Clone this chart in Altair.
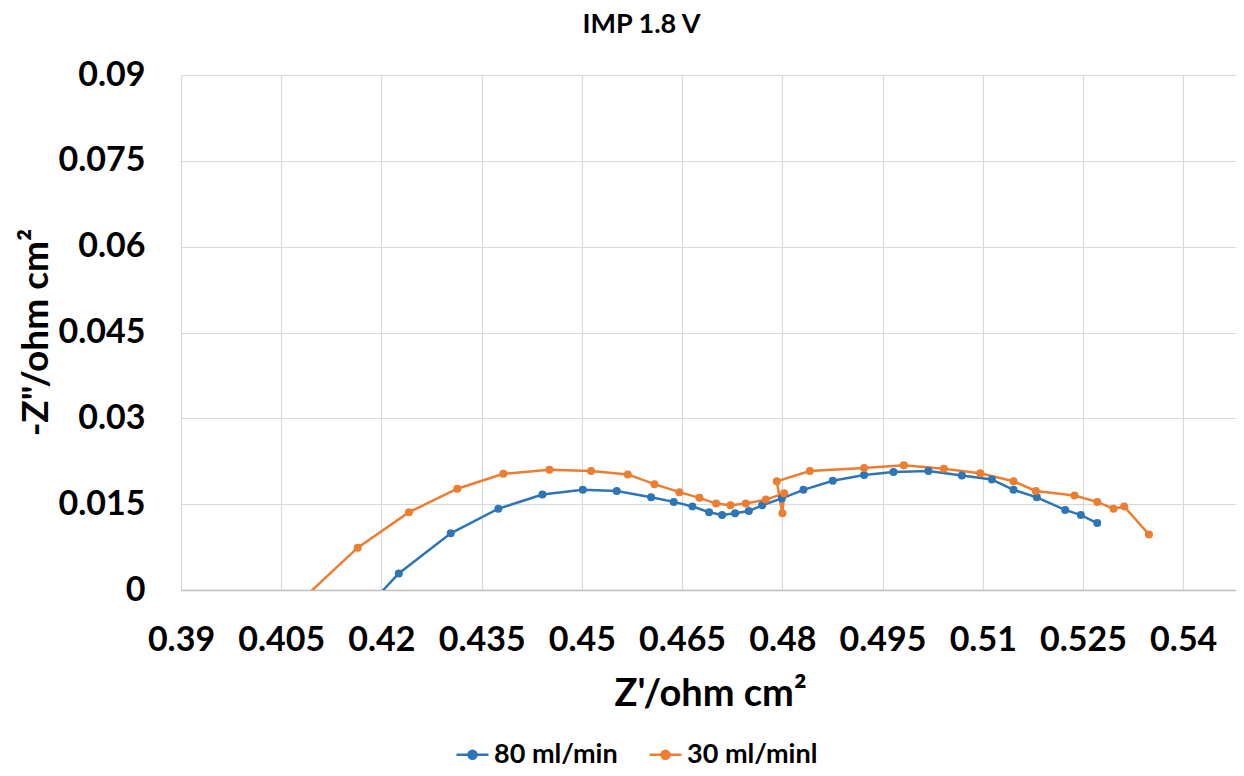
import altair as alt
import pandas as pd

# 80 ml/min series (Z', -Z'')
blue_x = [0.4179, 0.42259, 0.43037, 0.4375, 0.44409, 0.45013, 0.45522, 0.46036, 0.46375,
          0.46654, 0.46904, 0.47099, 0.47293, 0.47498, 0.47698, 0.47992, 0.48316, 0.48755,
          0.49224, 0.49663, 0.50187, 0.50687, 0.51136, 0.5146, 0.51809, 0.52233, 0.52468, 0.52713]
blue_y = [-0.003, 0.0029, 0.0099, 0.0142, 0.0167, 0.0175, 0.0173, 0.0162, 0.0154,
          0.0146, 0.0136, 0.0131, 0.0134, 0.0138, 0.0148, 0.016, 0.0175, 0.0191,
          0.0201, 0.0206, 0.0208, 0.02, 0.0193, 0.0175, 0.0162, 0.014, 0.0131, 0.0117]

# 30 ml/minl series
orange_x = [0.4069, 0.41645, 0.42413, 0.43136, 0.43825, 0.44514, 0.45138, 0.45687, 0.46086,
            0.4646, 0.46759, 0.47009, 0.47223, 0.47453, 0.47753, 0.48027, 0.48001, 0.47917,
            0.48412, 0.49224, 0.49818, 0.50417, 0.50961, 0.5146, 0.51794, 0.52373, 0.52713,
            0.52957, 0.53116, 0.53487]
orange_y = [-0.003, 0.0074, 0.0136, 0.0177, 0.0203, 0.021, 0.0208, 0.0202, 0.0185,
            0.0171, 0.0161, 0.0151, 0.0148, 0.0151, 0.0158, 0.0169, 0.0134, 0.019,
            0.0208, 0.0213, 0.0218, 0.0212, 0.0204, 0.019, 0.0173, 0.0165, 0.0154,
            0.0142, 0.0146, 0.0097]

series_names = ["80 ml/min", "30 ml/minl"]
series_colors = ["#2E75B6", "#ED7D31"]

x_ticks = [0.39, 0.405, 0.42, 0.435, 0.45, 0.465, 0.48, 0.495, 0.51, 0.525, 0.54]
y_ticks = [0, 0.015, 0.03, 0.045, 0.06, 0.075, 0.09]

rows = []
for i, (x, y) in enumerate(zip(blue_x, blue_y)):
    rows.append({"series": series_names[0], "x": x, "y": y, "idx": i})
for i, (x, y) in enumerate(zip(orange_x, orange_y)):
    rows.append({"series": series_names[1], "x": x, "y": y, "idx": i})
df = pd.DataFrame(rows)

FONT = "Lato"
W, H = 1055, 515
LABEL_EXPR = "format(datum.value, '.3~f')"

color = alt.Color(
    "series:N",
    scale=alt.Scale(domain=series_names, range=series_colors),
    legend=alt.Legend(
        orient="none", legendX=274, legendY=662, direction="horizontal",
        title=None, labelFont=FONT, labelFontSize=27, labelFontWeight="bold",
        labelColor="#000000", labelOffset=4, columnPadding=26,
        symbolType="M-1,0L1,0M-0.25,0A0.25,0.25,0,1,1,0.25,0A0.25,0.25,0,1,1,-0.25,0Z",
        symbolSize=1024, symbolStrokeWidth=2.5,
    ),
)

xenc = alt.X(
    "x:Q",
    scale=alt.Scale(domain=[0.39, 0.5479], nice=False, zero=False),
    axis=alt.Axis(
        values=x_ticks, labelExpr=LABEL_EXPR, title="Z'/ohm cm²",
        titleFont=FONT, titleFontSize=38, titleFontWeight="bold", titleColor="#000000",
        titleX=529, titleY=115, titleBaseline="alphabetic", titleAlign="center",
        labelFont=FONT, labelFontSize=34, labelFontWeight="bold", labelColor="#000000",
        labelBaseline="alphabetic", labelPadding=60, ticks=False, tickSize=0,
        grid=True, gridColor="#D9D9D9", gridWidth=1.2,
        domain=True, domainColor="#BFBFBF", domainWidth=1.5, labelFlush=False,
    ),
)
yenc = alt.Y(
    "y:Q",
    scale=alt.Scale(domain=[0, 0.09], nice=False, zero=False),
    axis=alt.Axis(
        values=y_ticks, labelExpr=LABEL_EXPR, title='-Z"/ohm cm²',
        titleFont=FONT, titleFontSize=37, titleFontWeight="bold", titleColor="#000000",
        titleX=-134, titleY=257, titleBaseline="alphabetic", titleAlign="center", titleAngle=270,
        labelFont=FONT, labelFontSize=34, labelFontWeight="bold", labelColor="#000000",
        labelPadding=36, ticks=False, tickSize=0,
        grid=True, gridColor="#D9D9D9", gridWidth=1.2, domain=False,
    ),
)

base = alt.Chart(df).encode(x=xenc, y=yenc, color=color, order="idx:Q", detail="series:N")

lines = base.mark_line(strokeWidth=2.5, clip=True)
points = base.mark_point(filled=True, size=64, opacity=1, clip=True)

chart = (
    alt.layer(lines, points)
    .properties(
        width=W, height=H,
        title=alt.TitleParams(
            "IMP 1.8 V", font=FONT, fontSize=27, fontWeight="bold", color="#000000",
            anchor="middle", dx=-67, dy=16, offset=14, baseline="alphabetic",
        ),
        autosize=alt.AutoSizeParams(type="none"),
        padding={"left": 173, "top": 67, "right": 0, "bottom": 178},
    )
    .configure_view(stroke=None)
    .configure(background="#FFFFFF")
)

chart.save("out.html", embed_options={"renderer": "svg", "actions": False})
